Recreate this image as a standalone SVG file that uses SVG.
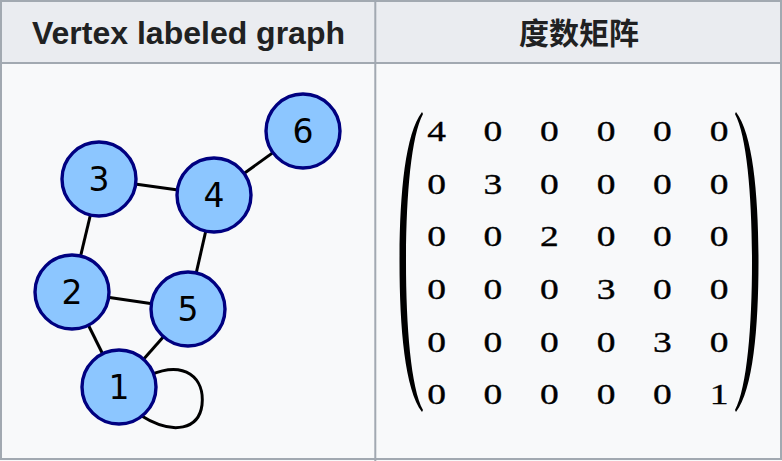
<svg xmlns="http://www.w3.org/2000/svg" width="782" height="461" viewBox="0 0 782 461">
<style>
.hdr{font-family:"Liberation Sans","Noto Sans CJK SC",sans-serif;font-weight:bold;font-size:32px;fill:#202122;text-anchor:middle}
.cjk{font-family:"Noto Sans CJK SC",sans-serif;font-weight:bold;font-size:30px;fill:#202122;text-anchor:middle}
.node circle{fill:#8cc6ff;stroke:#000080;stroke-width:3.4}
.node text{font-family:"DejaVu Sans",sans-serif;font-size:33px;fill:#000;text-anchor:middle}
.edge{stroke:#000;stroke-width:3;fill:none}
.m text{font-family:"Liberation Serif",serif;font-size:30px;fill:#000;stroke:#000;stroke-width:0.35;text-anchor:middle}
.paren{fill:#000}
</style>
<rect x="0" y="0" width="782" height="63" fill="#eaecf0"/>
<rect x="0" y="63" width="782" height="398" fill="#f8f9fa"/>
<g fill="none" stroke="#a2a9b1" stroke-width="2">
<rect x="1" y="1" width="780" height="458"/>
<line x1="0" y1="63" x2="782" y2="63"/>
<line x1="375.3" y1="0" x2="375.3" y2="461"/>
</g>
<text class="hdr" x="188.5" y="44">Vertex labeled graph</text>
<text class="cjk" x="579" y="44">度数矩阵</text>
<g id="connectors">
<line class="edge" x1="119" y1="387" x2="72" y2="292"/>
<line class="edge" x1="119" y1="387" x2="188" y2="309"/>
<line class="edge" x1="72" y1="292" x2="99" y2="179"/>
<line class="edge" x1="72" y1="292" x2="188" y2="309"/>
<line class="edge" x1="99" y1="179" x2="214" y2="195"/>
<line class="edge" x1="214" y1="195" x2="188" y2="309"/>
<line class="edge" x1="214" y1="195" x2="303" y2="131"/>
<path class="edge" d="M150,375 C185,360 205,378 202,405 C199,428 175,437 140,415"/>
</g>
<g id="node1" class="node"><circle cx="119" cy="387" r="37"/><text x="119" y="399">1</text></g>
<g id="node2" class="node"><circle cx="72" cy="292" r="37"/><text x="72" y="304">2</text></g>
<g id="node3" class="node"><circle cx="99" cy="179" r="37"/><text x="99" y="191">3</text></g>
<g id="node4" class="node"><circle cx="214" cy="195" r="37"/><text x="214" y="207">4</text></g>
<g id="node5" class="node"><circle cx="188" cy="309" r="37"/><text x="188" y="321">5</text></g>
<g id="node6" class="node"><circle cx="303" cy="131" r="37"/><text x="303" y="143">6</text></g>
<g id="matrix">
<path class="paren" d="M422,112 C405,134 399.5,196 399.5,262 C399.5,328 405,390 422,412 L423,410 C411,388 406,326 406,262 C406,198 411,136 423,114 Z"/>
<path class="paren" d="M736,112 C753,134 758.5,196 758.5,262 C758.5,328 753,390 736,412 L735,410 C747,388 752,326 752,262 C752,198 747,136 735,114 Z"/>
<g class="m" transform="translate(436.5,0) scale(1.25,1)">
<text x="0" y="141">4</text><text x="45.2" y="141">0</text><text x="90.4" y="141">0</text><text x="135.6" y="141">0</text><text x="180.8" y="141">0</text><text x="226" y="141">0</text>
<text x="0" y="193.7">0</text><text x="45.2" y="193.7">3</text><text x="90.4" y="193.7">0</text><text x="135.6" y="193.7">0</text><text x="180.8" y="193.7">0</text><text x="226" y="193.7">0</text>
<text x="0" y="246.4">0</text><text x="45.2" y="246.4">0</text><text x="90.4" y="246.4">2</text><text x="135.6" y="246.4">0</text><text x="180.8" y="246.4">0</text><text x="226" y="246.4">0</text>
<text x="0" y="299.1">0</text><text x="45.2" y="299.1">0</text><text x="90.4" y="299.1">0</text><text x="135.6" y="299.1">3</text><text x="180.8" y="299.1">0</text><text x="226" y="299.1">0</text>
<text x="0" y="351.8">0</text><text x="45.2" y="351.8">0</text><text x="90.4" y="351.8">0</text><text x="135.6" y="351.8">0</text><text x="180.8" y="351.8">3</text><text x="226" y="351.8">0</text>
<text x="0" y="404.5">0</text><text x="45.2" y="404.5">0</text><text x="90.4" y="404.5">0</text><text x="135.6" y="404.5">0</text><text x="180.8" y="404.5">0</text><text x="226" y="404.5">1</text>
</g>
</g>
</svg>
